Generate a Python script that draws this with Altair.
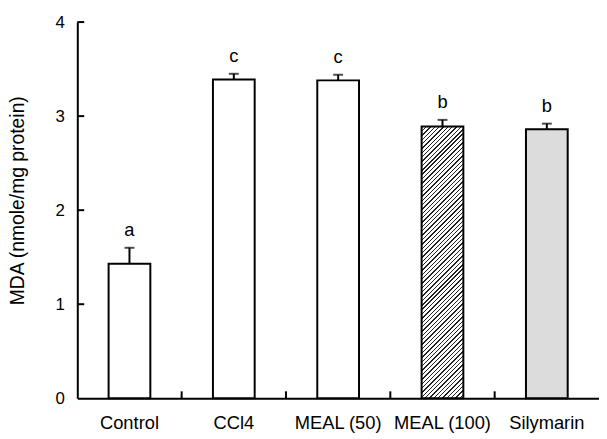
import altair as alt
import pandas as pd

categories = ["Control", "CCl4", "MEAL (50)", "MEAL (100)", "Silymarin"]
means = [1.43, 3.39, 3.38, 2.89, 2.86]
errors = [0.17, 0.06, 0.06, 0.07, 0.06]
letters = ["a", "c", "c", "b", "b"]
fills = ["white", "white", "white", "hatch", "stipple"]
y_ticks = [1, 2, 3, 4]

W, H = 527, 380
FONT = "Liberation Sans"
STEP = W / 5

df = pd.DataFrame({
    "cat": categories,
    "mean": means,
    "err": errors,
    "letter": letters,
    "fill": fills,
})
df["upper"] = df["mean"] + df["err"]

# hatch gradient (diagonal "///" stripes) sized for the hatched bar
bw = STEP * 0.4
bh = means[3] / 4 * H
ratio = bw / bh
s = (ratio + 1) / (ratio ** 2 + 1)
period = 4.4
n = int((bw + bh) / period) + 1
stops = []
for i in range(n):
    a = i / n
    b = (i + 0.32) / n
    c = (i + 1) / n
    stops += [
        alt.GradientStop(offset=a, color="#222222"),
        alt.GradientStop(offset=b, color="#222222"),
        alt.GradientStop(offset=b, color="white"),
        alt.GradientStop(offset=c, color="white"),
    ]
hatch = alt.Gradient(gradient="linear", stops=stops, x1=0, y1=0,
                     x2=ratio * s, y2=1 * s)

xscale = alt.Scale(domain=categories, paddingInner=0.6, paddingOuter=0.3)
yscale = alt.Scale(domain=[0, 4], nice=False)

X = alt.X("cat:N", scale=xscale, sort=categories,
          axis=alt.Axis(title=None, labelAngle=0, tickSize=0, labelPadding=16,
                        labelFontSize=18.5, domainWidth=2))
Y = alt.Y("mean:Q", scale=yscale,
          axis=alt.Axis(title="MDA (nmole/mg protein)", values=[0, 1, 2, 3, 4],
                        format="d", tickSize=0, labelPadding=13, labelFontSize=17,
                        grid=False, domainWidth=2, titleFontSize=19.5,
                        titleFontWeight="normal",
                        titleX=-60, titleY=180, titleAlign="center",
                        titleBaseline="middle", titleAngle=270))

base = alt.Chart(df)

bars_white = base.transform_filter(alt.datum.fill == "white").mark_bar(
    fill="white", stroke="black", strokeWidth=2).encode(x=X, y=Y)
bars_hatch = base.transform_filter(alt.datum.fill == "hatch").mark_bar(
    fill=hatch, stroke="black", strokeWidth=2).encode(x=X, y=Y)
bars_stip = base.transform_filter(alt.datum.fill == "stipple").mark_bar(
    fill="#dcdcdc", stroke="black", strokeWidth=2).encode(x=X, y=Y)

err_line = base.mark_rule(color="black", strokeWidth=2).encode(
    x=alt.X("cat:N", scale=xscale, sort=categories),
    y=alt.Y("mean:Q", scale=yscale), y2="upper:Q")
err_cap = base.mark_tick(color="black", thickness=2, size=10).encode(
    x=alt.X("cat:N", scale=xscale, sort=categories),
    y=alt.Y("upper:Q", scale=yscale))
labels = base.mark_text(baseline="bottom", dy=-8, fontSize=18.5, font=FONT,
                        color="black").encode(
    x=alt.X("cat:N", scale=xscale, sort=categories),
    y=alt.Y("upper:Q", scale=yscale), text="letter:N")

# x ticks sit midway between categories
xt = pd.DataFrame({"cat": categories[:-1]})
x_ticks = alt.Chart(xt).mark_rule(color="black", strokeWidth=2,
                                  xOffset=STEP * 0.3).encode(
    x=alt.X("cat:N", scale=xscale, sort=categories, bandPosition=1),
    y=alt.value(H), y2=alt.value(H - 7))

main = alt.layer(bars_white, bars_hatch, bars_stip, err_line, err_cap, labels,
                 x_ticks)

# y ticks point inward from the axis line
yt = pd.DataFrame({"v": y_ticks, "x0": [0] * 4, "x1": [1] * 4})
y_tick_marks = alt.Chart(yt).mark_rule(color="black", strokeWidth=2).encode(
    y=alt.Y("v:Q", scale=yscale),
    x=alt.X("x0:Q", scale=alt.Scale(domain=[0, 1], range=[0, 7]), axis=None),
    x2="x1:Q")

chart = alt.layer(main, y_tick_marks).resolve_scale(x="independent").properties(
    width=W, height=H,
    autosize=alt.AutoSizeParams(type="none"),
    padding={"left": 70, "top": 12, "right": 0, "bottom": 45},
).configure_view(stroke=None).configure_axis(
    domainColor="black", labelColor="black", titleColor="black",
    labelFont=FONT, titleFont=FONT,
)

chart.save("out.html", embed_options={"renderer": "svg", "actions": False})
